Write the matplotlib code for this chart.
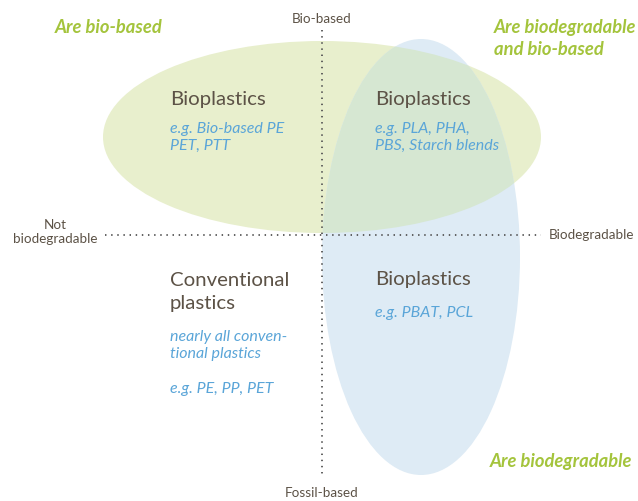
import matplotlib.pyplot as plt
from matplotlib.patches import Ellipse

plt.rcParams['font.family'] = ['Lato', 'DejaVu Sans']

# content
axis_labels = ['Bio-based', 'Fossil-based', 'Not\nbiodegradable', 'Biodegradable']
group_labels = ['Are bio-based', 'Are biodegradable\nand bio-based', 'Are biodegradable']
quad_titles = ['Bioplastics', 'Bioplastics', 'Conventional\nplastics', 'Bioplastics']
quad_examples = ['e.g. Bio-based PE\nPET, PTT',
                 'e.g. PLA, PHA,\nPBS, Starch blends',
                 'nearly all conven-\ntional plastics\n\ne.g. PE, PP, PET',
                 'e.g. PBAT, PCL']

W, H = 638, 501
fig = plt.figure(figsize=(W/100, H/100), dpi=100)
ax = fig.add_axes([0, 0, 1, 1])
ax.set_xlim(0, W)
ax.set_ylim(H, 0)
ax.axis('off')

brown = '#5c5246'
blue = '#5aa5d8'
green = '#a4c43c'

# ellipses: green (bio-based), blue (biodegradable), overlap drawn clipped
e_green = Ellipse((322, 137), 438, 192, color='#e8efcd', zorder=1, lw=0)
e_blue = Ellipse((421, 257), 198, 436, color='#deebf5', zorder=2, lw=0)
ax.add_patch(e_green)
ax.add_patch(e_blue)
e_both = Ellipse((322, 137), 438, 192, color='#d6e7d2', zorder=2.5, lw=0)
ax.add_patch(e_both)
e_both.set_clip_path(e_blue)

# dotted axes
ax.plot([322, 322], [30, 476], color='#555555', lw=1.3, ls=(0, (0.8, 2.6)), zorder=3)
ax.plot([105, 541], [235, 235], color='#555555', lw=1.3, ls=(0, (0.8, 2.6)), zorder=3)

ax.text(322, 19, axis_labels[0], ha='center', va='center', fontsize=9.7, color=brown)
ax.text(322, 493, axis_labels[1], ha='center', va='center', fontsize=9.7, color=brown)
ax.text(55, 232, axis_labels[2], ha='center', va='center', fontsize=9.7, color=brown,
        linespacing=1.15)
ax.text(549, 235, axis_labels[3], ha='left', va='center', fontsize=9.7, color=brown)

ax.text(55, 27, group_labels[0], ha='left', va='center', fontsize=13.2, color=green,
        weight='bold', style='italic')
ax.text(494, 38.5, group_labels[1], ha='left', va='center', fontsize=13.2, color=green,
        weight='bold', style='italic', linespacing=1.3)
ax.text(490, 462, group_labels[2], ha='left', va='center', fontsize=13.2, color=green,
        weight='bold', style='italic')

tx = [170, 375, 170, 375]
ty = [99, 99, 292, 280]
ey = [122, 122, 330, 306]
for i in range(4):
    ax.text(tx[i], ty[i], quad_titles[i], ha='left', va='center', fontsize=14.7,
            color=brown, linespacing=1.45, zorder=4)
    ax.text(tx[i], ey[i], quad_examples[i], ha='left', va='top', fontsize=11.5,
            color=blue, style='italic', linespacing=1.3, zorder=4)

fig.savefig('out.png', dpi=100)
